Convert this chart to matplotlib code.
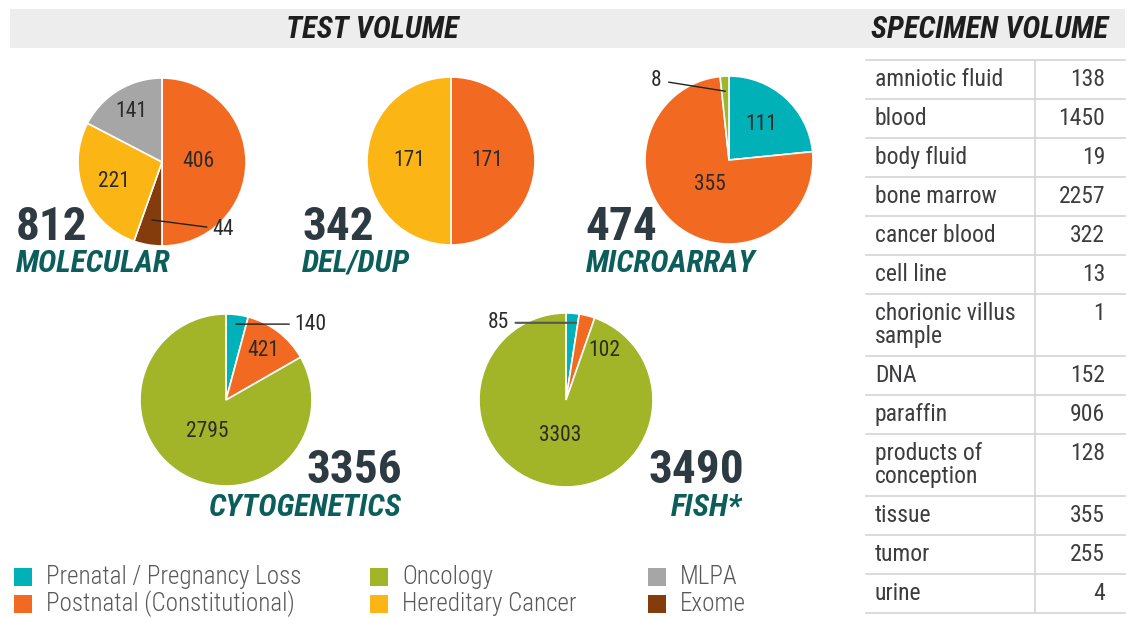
import numpy as np
import matplotlib
matplotlib.use("Agg")
import matplotlib.pyplot as plt
from matplotlib.patches import Rectangle

# ---- data ----
categories = ['Prenatal / Pregnancy Loss', 'Postnatal (Constitutional)', 'Oncology',
              'Hereditary Cancer', 'MLPA', 'Exome']
cat_colors = ['#00b2b8', '#f26a22', '#a2b428', '#fbb615', '#a6a6a6', '#843c0c']

molecular_cats = ['Postnatal (Constitutional)', 'Exome', 'Hereditary Cancer', 'MLPA']
molecular_vals = [406, 44, 221, 141]
deldup_cats = ['Postnatal (Constitutional)', 'Hereditary Cancer']
deldup_vals = [171, 171]
microarray_cats = ['Prenatal / Pregnancy Loss', 'Postnatal (Constitutional)', 'Oncology']
microarray_vals = [111, 355, 8]
cyto_cats = ['Prenatal / Pregnancy Loss', 'Postnatal (Constitutional)', 'Oncology']
cyto_vals = [140, 421, 2795]
fish_cats = ['Prenatal / Pregnancy Loss', 'Postnatal (Constitutional)', 'Oncology']
fish_vals = [85, 102, 3303]

specimen_types = ['amniotic fluid', 'blood', 'body fluid', 'bone marrow', 'cancer blood',
                  'cell line', 'chorionic villus\nsample', 'DNA', 'paraffin',
                  'products of\nconception', 'tissue', 'tumor', 'urine']
specimen_counts = [138, 1450, 19, 2257, 322, 13, 1, 152, 906, 128, 355, 255, 4]

# ---- style ----
W, H = 1130, 618
COND = ['Roboto Condensed', 'Liberation Sans Narrow', 'Roboto', 'DejaVu Sans']
NUM_COLOR = '#2e3a42'
TITLE_COLOR = '#0b5e5b'
TXT_COLOR = '#3d3d3f'
LBL = dict(fontsize=15.5, family=COND, color='#2b2b2b')
color_of = dict(zip(categories, cat_colors))

fig = plt.figure(figsize=(W / 100, H / 100), dpi=100)
bg = fig.add_axes([0, 0, 1, 1])
bg.set_xlim(0, W)
bg.set_ylim(H, 0)
bg.axis('off')

# header band
bg.add_patch(Rectangle((10, 9), 1115, 39, color='#ededee', lw=0))
bg.text(372, 29, 'TEST VOLUME', ha='center', va='center', fontsize=22, fontweight='bold',
        fontstyle='italic', family=COND, color='#1e1e1e')
bg.text(990, 29, 'SPECIMEN VOLUME', ha='center', va='center', fontsize=22, fontweight='bold',
        fontstyle='italic', family=COND, color='#1e1e1e')


def pie_at(cx, cy, r, cats, vals, dists):
    pad = 1.05
    ax = fig.add_axes([(cx - r * pad) / W, 1 - (cy + r * pad) / H, 2 * r * pad / W, 2 * r * pad / H])
    wedges, _ = ax.pie(vals, colors=[color_of[c] for c in cats], startangle=90, counterclock=False,
                       wedgeprops=dict(edgecolor='white', linewidth=1.2))
    ax.set_xlim(-pad, pad)
    ax.set_ylim(-pad, pad)
    ax.set_aspect('equal')
    ax.axis('off')
    for w, v, d in zip(wedges, vals, dists):
        if d is None:
            continue
        a = np.deg2rad((w.theta1 + w.theta2) / 2)
        ax.text(d * np.cos(a), d * np.sin(a), str(v), ha='center', va='center', **LBL)
    return ax, wedges


def mid(w, d):
    a = np.deg2rad((w.theta1 + w.theta2) / 2)
    return d * np.cos(a), d * np.sin(a)


# MOLECULAR
ax, ws = pie_at(162, 162, 84, molecular_cats, molecular_vals, [0.43, None, 0.62, 0.7])
ax.annotate(str(molecular_vals[1]), xy=mid(ws[1], 0.7), xytext=(0.6, -0.8), ha='left', va='center',
            arrowprops=dict(arrowstyle='-', color='#222222', lw=1, shrinkA=2, shrinkB=0), **LBL)
# DEL/DUP
pie_at(451, 161, 84, deldup_cats, deldup_vals, [0.43, 0.5])
# MICROARRAY
ax, ws = pie_at(729, 160, 84, microarray_cats, microarray_vals, [0.57, 0.37, None])
ax.annotate(str(microarray_vals[2]), xy=mid(ws[2], 0.82), xytext=(-0.8, 0.95), ha='right', va='center',
            arrowprops=dict(arrowstyle='-', color='#222222', lw=1, shrinkA=3, shrinkB=0), **LBL)
# CYTOGENETICS
ax, ws = pie_at(226, 400, 86, cyto_cats, cyto_vals, [None, 0.72, 0.43])
p = mid(ws[0], 0.89)
ax.annotate(str(cyto_vals[0]), xy=p, xytext=(0.8, p[1]), ha='left', va='center',
            arrowprops=dict(arrowstyle='-', color='#222222', lw=1, shrinkA=2, shrinkB=0), **LBL)
# FISH
ax, ws = pie_at(566, 400, 87, fish_cats, fish_vals, [None, None, 0.41])
p = mid(ws[0], 0.89)
ax.annotate(str(fish_vals[0]), xy=(p[0] + 0.05, p[1]), xytext=(-0.66, p[1]), ha='right', va='center',
            arrowprops=dict(arrowstyle='-', color='#555555', lw=1.5, shrinkA=3, shrinkB=0), **LBL)
ax.text(0.44, 0.57, str(fish_vals[1]), ha='center', va='center', **LBL)

# totals and titles
big = dict(fontsize=34, fontweight='bold', family=COND, color=NUM_COLOR, va='center')
ttl = dict(fontsize=22.5, fontweight='bold', fontstyle='italic', family=COND, color=TITLE_COLOR,
           va='center')
bg.text(16, 227, str(sum(molecular_vals)), ha='left', **big)
bg.text(16, 263, 'MOLECULAR', ha='left', **ttl)
bg.text(302, 227, str(sum(deldup_vals)), ha='left', **big)
bg.text(302, 263, 'DEL/DUP', ha='left', **ttl)
bg.text(585, 227, str(sum(microarray_vals)), ha='left', **big)
bg.text(586, 263, 'MICROARRAY', ha='left', **ttl)
bg.text(402, 470, str(sum(cyto_vals)), ha='right', **big)
bg.text(402, 507, 'CYTOGENETICS', ha='right', **ttl)
bg.text(744, 470, str(sum(fish_vals)), ha='right', **big)
bg.text(742, 507, 'FISH*', ha='right', **ttl)

# legend
col_x = [14, 370, 648]
row_y = [577, 604]
for i, (name, c) in enumerate(zip(categories, cat_colors)):
    x = col_x[i // 2]
    y = row_y[i % 2]
    bg.add_patch(Rectangle((x, y - 9), 18, 18, color=c, lw=0))
    bg.text(x + 32, y, name, ha='left', va='center', fontsize=18, fontweight='light',
            family=COND, color='#58595b')

# specimen table
tx0, tx1, tdiv = 866, 1125, 1035
top = 60
bg.plot([tx0, tx1], [top, top], color='#d3d4d6', lw=1.2)
y = top
for name, n in zip(specimen_types, specimen_counts):
    h = 62 if '\n' in name else 39
    bg.text(875, y + 8, name, ha='left', va='top', fontsize=17, family=COND, color=TXT_COLOR,
            linespacing=1.0)
    bg.text(1105, y + 8, str(n), ha='right', va='top', fontsize=17, family=COND, color=TXT_COLOR)
    y += h
    bg.plot([tx0, tx1], [y, y], color='#d3d4d6', lw=1.2)
bg.plot([tdiv, tdiv], [top, y], color='#d3d4d6', lw=1.2)

fig.savefig('out.png', dpi=100, facecolor='white')
